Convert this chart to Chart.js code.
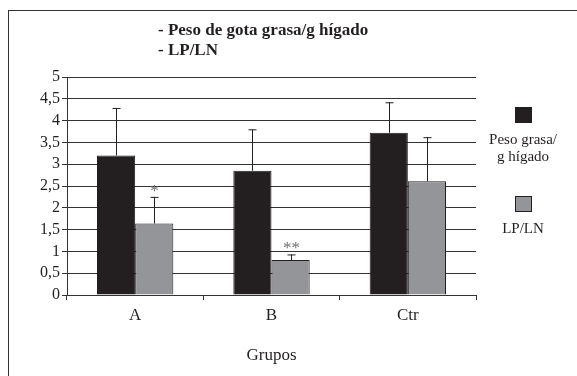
<!DOCTYPE html>
<html>
<head>
<meta charset="utf-8">
<script src="https://cdn.jsdelivr.net/npm/chart.js@4.4.0/dist/chart.umd.min.js"></script>
<style>
  body { margin: 0; background: #fff; }
  #wrap { position: relative; width: 577px; height: 376px; overflow: hidden; }
  #frame { position: absolute; left: 8px; top: 10px; width: 600px; height: 400px; border: 1.5px solid #333; box-sizing: border-box; }
  canvas { position: absolute; left: 0; top: 0; }
</style>
</head>
<body>
<div id="wrap">
  <div id="frame"></div>
  <canvas id="chart" width="577" height="376"></canvas>
</div>
<script>
// data
const groups = ['A', 'B', 'Ctr'];
const pesoGrasa = [3.2, 2.85, 3.72];
const pesoGrasaErr = [1.09, 0.95, 0.7];
const lpln = [1.64, 0.8, 2.61];
const lplnErr = [0.61, 0.13, 1.01];
const lplnMarks = ['*', '**', ''];
const titleLines = ['- Peso de gota grasa/g hígado', '- LP/LN'];
const legendLabels = [['Peso grasa/', 'g hígado'], ['LP/LN']];

const serif = '"Liberation Serif", "Times New Roman", serif';
const dark = '#231f20';
const grey = '#939598';

// upper error bars + significance marks
const errorBars = {
    id: 'errorBars',
    afterDatasetsDraw(chart) {
        const ctx = chart.ctx;
        const y = chart.scales.y;
        ctx.save();
        ctx.strokeStyle = dark;
        ctx.lineWidth = 1;
        chart.data.datasets.forEach((ds, di) => {
            const meta = chart.getDatasetMeta(di);
            meta.data.forEach((bar, i) => {
                const top = y.getPixelForValue(ds.data[i] + ds.errors[i]);
                const x = Math.round(bar.x) + 0.5;
                ctx.beginPath();
                ctx.moveTo(x, bar.y);
                ctx.lineTo(x, top);
                ctx.moveTo(x - 4, top + 0.5);
                ctx.lineTo(x + 4, top + 0.5);
                ctx.stroke();
                if (ds.marks && ds.marks[i]) {
                    ctx.fillStyle = '#707070';
                    ctx.font = '17px ' + serif;
                    ctx.textAlign = 'center';
                    ctx.textBaseline = 'bottom';
                    ctx.fillText(ds.marks[i], x, top + 3);
                }
            });
        });
        ctx.restore();
    }
};

// title block and side legend
const decorations = {
    id: 'decorations',
    afterDraw(chart) {
        const ctx = chart.ctx;
        ctx.save();
        ctx.fillStyle = dark;
        ctx.font = 'bold 17px ' + serif;
        ctx.textAlign = 'left';
        ctx.textBaseline = 'middle';
        ctx.fillText(titleLines[0], 158, 31);
        ctx.fillText(titleLines[1], 158, 51);

        const boxes = [107, 196];
        chart.data.datasets.forEach((ds, di) => {
            const by = boxes[di];
            ctx.fillStyle = ds.backgroundColor;
            ctx.fillRect(515, by, 17, 16);
            ctx.strokeStyle = dark;
            ctx.lineWidth = 1;
            ctx.strokeRect(515.5, by + 0.5, 16, 15);
            ctx.fillStyle = dark;
            ctx.font = '15px ' + serif;
            ctx.textAlign = 'center';
            legendLabels[di].forEach((line, li) => {
                ctx.fillText(line, 523, by + 33 + li * 17);
            });
        });
        ctx.restore();
    }
};

new Chart(document.getElementById('chart'), {
    type: 'bar',
    data: {
        labels: groups,
        datasets: [
            {
                label: 'Peso grasa/g hígado',
                data: pesoGrasa,
                errors: pesoGrasaErr,
                backgroundColor: dark,
                borderColor: dark,
                borderWidth: 1,
                categoryPercentage: 0.56,
                barPercentage: 1
            },
            {
                label: 'LP/LN',
                data: lpln,
                errors: lplnErr,
                marks: lplnMarks,
                backgroundColor: grey,
                borderColor: dark,
                borderWidth: 1,
                categoryPercentage: 0.56,
                barPercentage: 1
            }
        ]
    },
    options: {
        responsive: false,
        animation: false,
        layout: { padding: { left: 0, top: 77, right: 101, bottom: 0 } },
        plugins: {
            legend: { display: false },
            tooltip: { enabled: false }
        },
        scales: {
            x: {
                afterFit: s => { s.height = 81; },
                grid: {
                    offset: true,
                    drawOnChartArea: false,
                    drawTicks: true,
                    tickLength: 5,
                    color: '#333'
                },
                border: { color: '#333', width: 1 },
                ticks: { color: dark, font: { family: serif, size: 17 }, padding: 5 },
                title: {
                    display: true,
                    text: 'Grupos',
                    color: dark,
                    font: { family: serif, size: 17 },
                    padding: { top: 0, bottom: 10 }
                }
            },
            y: {
                min: 0,
                max: 5,
                afterFit: s => { s.width = 67; },
                grid: { color: '#333', tickLength: 5 },
                border: { color: '#333', width: 1 },
                ticks: {
                    stepSize: 0.5,
                    autoSkip: false,
                    color: dark,
                    font: { family: serif, size: 16 },
                    padding: 2,
                    callback: v => String(v).replace('.', ',')
                }
            }
        }
    },
    plugins: [errorBars, decorations]
});
</script>
</body>
</html>
